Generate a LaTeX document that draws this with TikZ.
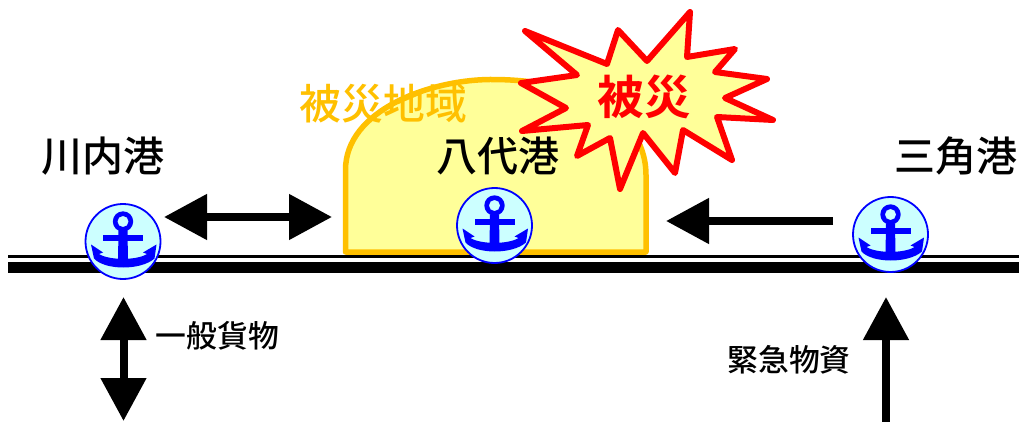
\documentclass[tikz,border=0pt]{standalone}
\usepackage{fontspec}
\setmainfont{Noto Sans CJK JP Medium}
\newfontfamily\hitfont{Noto Sans CJK JP Bold}
\usetikzlibrary{arrows.meta}
\definecolor{paleyellow}{HTML}{FFFF99}
\definecolor{areaorange}{HTML}{FFC000}
\definecolor{palecyan}{HTML}{CCFFFF}
\tikzset{
  x=1pt,y=-1pt,
  portlabel/.style={font=\fontsize{41}{42}\selectfont,text=black,inner sep=0pt},
  cargolabel/.style={font=\fontsize{30.8}{32}\selectfont,text=black,inner sep=0pt},
  bigarrow/.style={line width=8pt,draw=black,-{Triangle[width=44pt,length=43pt]}},
  bigdouble/.style={line width=8pt,draw=black,{Triangle[width=44pt,length=43pt]}-{Triangle[width=44pt,length=43pt]}},
  port/.pic={
    \draw[blue,fill=palecyan,line width=1.8pt] (0,0) circle (37.5);
    \fill[blue,even odd rule] (0,-20) circle (10.2) (0,-20) circle (5.6);
    \fill[blue] (-20,-7) rectangle (20,-1);
    \fill[blue] (-4.5,-11) -- (4.5,-11) -- (5,20) -- (-5,20) -- cycle;
    \fill[blue] (-32,3) -- (-20,11) -- (-24,12.5)
      .. controls (-14,19) and (14,19) .. (24,12.5)
      -- (20,11) -- (33.5,3) -- (31.5,17)
      .. controls (18,29) and (-18,29) .. (-29,17) -- cycle;
  }
}
\begin{document}
\begin{tikzpicture}
\useasboundingbox (0,0) rectangle (1019,422);
% railway
\coordinate (railL) at (8,256.5);
\coordinate (railR) at (1019,256.5);
\coordinate (railLb) at (8,267.5);
\coordinate (railRb) at (1019,267.5);
\draw[black,line width=3.5pt] (railL) -- (railR);
\draw[black,line width=10.5pt] (railLb) -- (railRb);
% affected area
\draw[areaorange,fill=paleyellow,line width=5.5pt,line join=round]
  (345.5,252) -- (345.5,170) .. controls (345.5,110) and (430,80) .. (490,79.5)
  .. controls (590,79) and (646,120) .. (646,175) -- (646,252) -- cycle;
\node[font=\fontsize{41.8}{43}\selectfont,text=areaorange,inner sep=0pt] (areaname) at (383.5,104) {被災地域};
% disaster burst
\draw[red,fill=paleyellow,line width=6pt,line join=round]
  (690,12) -- (687,57) -- (735,49) -- (715,72) -- (767,79) -- (725,98) -- (773,120)
  -- (717,117) -- (732,160) -- (683,130) -- (675,173) -- (643,133) -- (620,189)
  -- (610,138) -- (577,156) -- (588,125) -- (522,131) -- (566,108) -- (521,83)
  -- (577,75) -- (525,31) -- (607,64) -- (618,30) -- (647,61) -- cycle;
\node[font=\fontsize{46.5}{48}\selectfont\hitfont,text=red,inner sep=0pt] (hit) at (644,97) {被災};
% ports
\node[portlabel] (sendai) at (103,156) {川内港};
\node[portlabel] (yatsushiro) at (498,156) {八代港};
\node[portlabel] (misumi) at (956,156) {三角港};
\coordinate (p1) at (123,241.5);
\coordinate (p2) at (494.5,225.5);
\coordinate (p3) at (890.5,234.5);
\pic at (p1) {port};
\pic at (p2) {port};
\pic at (p3) {port};
% arrows
\coordinate (a1) at (164,217);
\coordinate (a2) at (332,217);
\coordinate (b1) at (833,221);
\coordinate (b2) at (666,221);
\coordinate (c1) at (123.5,297);
\coordinate (c2) at (123.5,421);
\coordinate (d1) at (886,422);
\coordinate (d2) at (886,297);
\draw[bigdouble] (a1) -- (a2);
\draw[bigarrow] (b1) -- (b2);
\draw[bigdouble] (c1) -- (c2);
\draw[bigarrow] (d1) -- (d2);
\node[cargolabel] (general) at (217.5,336) {一般貨物};
\node[cargolabel] (relief) at (789,360) {緊急物資};
\end{tikzpicture}
\end{document}
